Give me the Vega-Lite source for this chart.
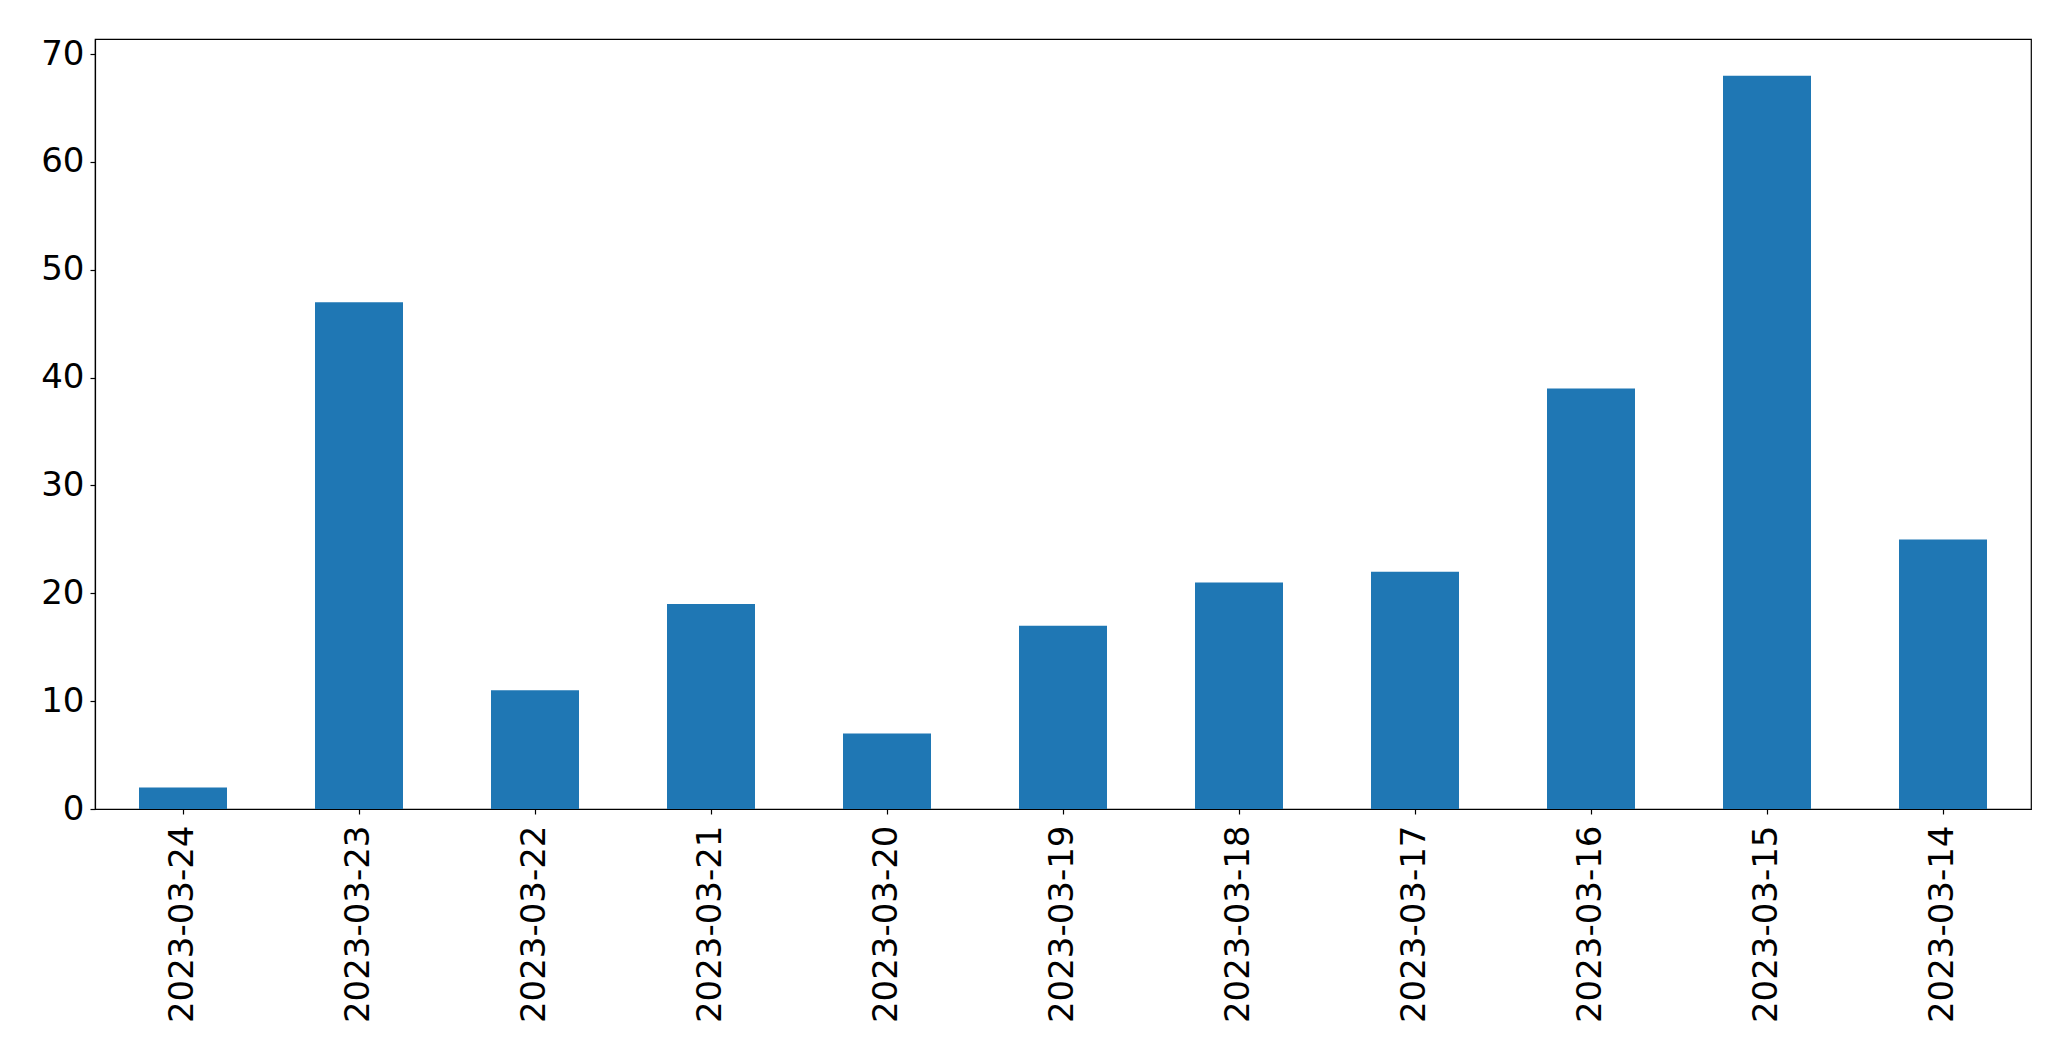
{
  "$schema": "https://vega.github.io/schema/vega-lite/v6.json",
  "autosize": {"type": "none"},
  "padding": {"left": 95, "top": 39, "right": 40, "bottom": 252},
  "width": 1936,
  "height": 770,
  "background": "white",
  "data": {
    "values": [
      {"date": "2023-03-24", "count": 2},
      {"date": "2023-03-23", "count": 47},
      {"date": "2023-03-22", "count": 11},
      {"date": "2023-03-21", "count": 19},
      {"date": "2023-03-20", "count": 7},
      {"date": "2023-03-19", "count": 17},
      {"date": "2023-03-18", "count": 21},
      {"date": "2023-03-17", "count": 22},
      {"date": "2023-03-16", "count": 39},
      {"date": "2023-03-15", "count": 68},
      {"date": "2023-03-14", "count": 25}
    ]
  },
  "mark": {"type": "bar", "color": "#1f77b4"},
  "encoding": {
    "x": {
      "field": "date",
      "type": "nominal",
      "sort": null,
      "title": null,
      "scale": {"paddingInner": 0.5, "paddingOuter": 0.25},
      "axis": {
        "labelAngle": -90,
        "labelFont": "DejaVu Sans",
        "labelFontSize": 34,
        "labelColor": "black",
        "labelPadding": 11,
        "labelLimit": 0,
        "tickSize": 5,
        "tickColor": "black",
        "tickWidth": 1.2,
        "domainColor": "black",
        "domainWidth": 1.2,
        "grid": false
      }
    },
    "y": {
      "field": "count",
      "type": "quantitative",
      "title": null,
      "scale": {"domain": [0, 71.4], "nice": false, "zero": true},
      "axis": {
        "values": [0, 10, 20, 30, 40, 50, 60, 70],
        "labelFont": "DejaVu Sans",
        "labelFontSize": 34,
        "labelColor": "black",
        "labelPadding": 6,
        "tickSize": 5,
        "tickColor": "black",
        "tickWidth": 1.2,
        "domainColor": "black",
        "domainWidth": 1.2,
        "grid": false
      }
    }
  },
  "config": {
    "view": {"stroke": "black", "strokeWidth": 1.2}
  }
}
